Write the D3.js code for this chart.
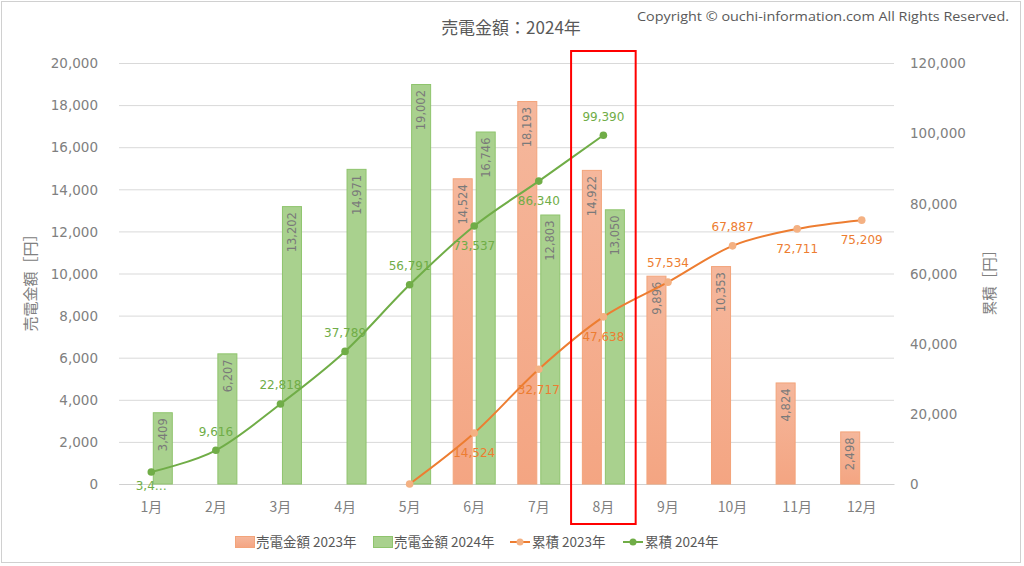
<!DOCTYPE html>
<html><head><meta charset="utf-8">
<script src="https://cdn.jsdelivr.net/npm/d3@7"></script>
<style>
html,body{margin:0;padding:0;background:#fff;}
svg{display:block;}
text{font-family:"DejaVu Sans","Noto Sans CJK JP",sans-serif;}
.jp{font-family:"Noto Sans CJK JP","DejaVu Sans",sans-serif;}
</style></head>
<body>
<svg id="chart" width="1024" height="566"></svg>
<script>
const months = ['1月','2月','3月','4月','5月','6月','7月','8月','9月','10月','11月','12月'];
const sales2023 = [null,null,null,null,null,14524,18193,14922,9896,10353,4824,2498];
const sales2024 = [3409,6207,13202,14971,19002,16746,12803,13050,null,null,null,null];
const cum2023 = [null,null,null,null,0,14524,32717,47638,57534,67887,72711,75209];
const cum2024 = [3409,9616,22818,37789,56791,73537,86340,99390,null,null,null,null];
const leftTicks = [0,2000,4000,6000,8000,10000,12000,14000,16000,18000,20000];
const rightTicks = [0,20000,40000,60000,80000,100000,120000];
const seriesNames = ['売電金額 2023年','売電金額 2024年','累積 2023年','累積 2024年'];
const highlightMonth = '8月';

// label placement (style config)
const pos2023 = [null,null,null,null,'none','below','below','below','above','above','below','below'];
const pos2024 = ['below','above','above','above','above','below','below','above'];

const svg = d3.select('#chart');
const C = {green:'#70ad47', greenFill:'#a9d18e', greenStroke:'#8fc46d', orange:'#ed7d31', orangeStroke:'#f3a47a', grid:'#d9d9d9', tick:'#808080', title:'#595959'};

const defs = svg.append('defs');
const grad = defs.append('linearGradient').attr('id','og').attr('x1',0).attr('y1',0).attr('x2',0).attr('y2',1);
grad.append('stop').attr('offset','0%').attr('stop-color','#f5b79c');
grad.append('stop').attr('offset','100%').attr('stop-color','#f4a582');

// outer border
svg.append('rect').attr('x',1.5).attr('y',1.5).attr('width',1019).attr('height',561)
  .attr('fill','none').attr('stroke','#d0d0d0').attr('stroke-width',1);

const x = d3.scaleBand().domain(months).range([119,894]).padding(0);
const bw = x.bandwidth();
const xs = d3.scaleBand().domain(['2023','2024']).range([bw*0.167, bw*0.833]).paddingInner(0.13);
const yL = d3.scaleLinear().domain([0,20000]).range([484,63]);
const yR = d3.scaleLinear().domain([0,120000]).range([484,63]);
const fmt = d3.format(',');

// grid
const gGrid = svg.append('g');
gGrid.selectAll('line').data(leftTicks).join('line')
  .attr('x1',119).attr('x2',894).attr('y1',d=>yL(d)+0.5).attr('y2',d=>yL(d)+0.5)
  .attr('stroke',C.grid).attr('stroke-width',1);

// left axis
const axL = d3.axisLeft(yL).tickValues(leftTicks).tickFormat(fmt).tickSize(0).tickPadding(0);
const gL = svg.append('g').attr('transform','translate(98,0)').call(axL);
gL.select('.domain').remove();
gL.selectAll('text').attr('fill',C.tick).attr('font-size',13.5).attr('dy','0.35em')
  .style('font-family','"DejaVu Sans",sans-serif');

// right axis
const axR = d3.axisRight(yR).tickValues(rightTicks).tickFormat(fmt).tickSize(0).tickPadding(0);
const gR = svg.append('g').attr('transform','translate(910,0)').call(axR);
gR.select('.domain').remove();
gR.selectAll('text').attr('fill',C.tick).attr('font-size',13.5).attr('dy','0.35em')
  .style('font-family','"DejaVu Sans",sans-serif');

// x axis
const axX = d3.axisBottom(x).tickSize(0).tickPadding(0);
const gX = svg.append('g').attr('transform','translate(0,484)').call(axX);
gX.select('.domain').attr('stroke','#d0d0d0');
gX.selectAll('text').attr('fill',C.tick).attr('font-size',14).attr('y',23).attr('dy','0.35em')
  .attr('class','jp');

// bars
const bars = [];
months.forEach((m,i)=>{
  if(sales2023[i]!=null) bars.push({m,key:'2023',v:sales2023[i]});
  if(sales2024[i]!=null) bars.push({m,key:'2024',v:sales2024[i]});
});
const gB = svg.append('g');
gB.selectAll('rect').data(bars).join('rect')
  .attr('x',d=>x(d.m)+xs(d.key)+0.5)
  .attr('y',d=>yL(d.v)+0.5)
  .attr('width',xs.bandwidth()-1)
  .attr('height',d=>yL(0)-yL(d.v)-0.5)
  .attr('fill',d=>d.key==='2023'?'url(#og)':C.greenFill)
  .attr('stroke',d=>d.key==='2023'?C.orangeStroke:C.greenStroke)
  .attr('stroke-width',1);
gB.selectAll('text').data(bars).join('text')
  .attr('transform',d=>`translate(${x(d.m)+xs(d.key)+xs.bandwidth()/2},${yL(d.v)+6}) rotate(-90)`)
  .attr('text-anchor','end').attr('dy','0.36em')
  .attr('font-size',11.5).attr('fill','#7a7a7a')
  .text(d=>fmt(d.v));

// lines
function drawLine(vals, color, markerFill, positions, labelFn){
  const pts = [];
  vals.forEach((v,i)=>{ if(v!=null) pts.push({m:months[i], v, i}); });
  const line = d3.line().x(d=>x(d.m)+bw/2).y(d=>yR(d.v)).curve(d3.curveCatmullRom.alpha(0));
  const g = svg.append('g');
  g.append('path').attr('d',line(pts)).attr('fill','none').attr('stroke',color).attr('stroke-width',2);
  g.selectAll('circle').data(pts).join('circle')
    .attr('cx',d=>x(d.m)+bw/2).attr('cy',d=>yR(d.v)).attr('r',3.8).attr('fill',markerFill);
  g.selectAll('text').data(pts.filter(d=>positions[d.i]!=='none')).join('text')
    .attr('x',d=>x(d.m)+bw/2)
    .attr('y',d=>Math.min(486, yR(d.v)+(positions[d.i]==='above'?-19:20)))
    .attr('dy','0.36em').attr('text-anchor','middle')
    .attr('font-size',12).attr('fill',color)
    .text(d=>labelFn(d));
}
drawLine(cum2023, C.orange, '#f4b183', pos2023, d=>fmt(d.v));
drawLine(cum2024, C.green, C.green, pos2024, d=>d.i===0 ? fmt(d.v).slice(0,3)+'…' : fmt(d.v));

// highlight box
svg.append('rect').attr('x',x(highlightMonth)).attr('y',51).attr('width',bw).attr('height',473)
  .attr('fill','none').attr('stroke','#ff0000').attr('stroke-width',2);

// titles
svg.append('text').attr('class','jp').attr('x',511).attr('y',28).attr('dy','0.35em')
  .attr('text-anchor','middle').attr('font-size',17).attr('fill',C.title).text('売電金額：2024年');
svg.append('text').attr('x',1009).attr('y',16).attr('dy','0.35em')
  .attr('text-anchor','end').attr('font-size',13).attr('fill','#595959')
  .attr('textLength',372).attr('lengthAdjust','spacingAndGlyphs')
  .style('font-family','"Open Sans",sans-serif')
  .text('Copyright © ouchi-information.com All Rights Reserved.');
svg.append('text').attr('class','jp').attr('transform','translate(31,279) rotate(-90)')
  .attr('text-anchor','middle').attr('dy','0.35em').attr('font-size',15).attr('fill',C.tick).text('売電金額［円］');
svg.append('text').attr('class','jp').attr('transform','translate(990,279) rotate(-90)')
  .attr('text-anchor','middle').attr('dy','0.35em').attr('font-size',14.5).attr('fill',C.tick).text('累積［円］');

// legend
const lg = svg.append('g').attr('transform','translate(0,542)');
const legendItems = [
  {x:235, type:'rect', fill:'url(#og)', stroke:C.orangeStroke, name:seriesNames[0]},
  {x:373, type:'rect', fill:C.greenFill, stroke:C.greenStroke, name:seriesNames[1]},
  {x:510, type:'line', color:C.orange, mfill:'#f4b183', name:seriesNames[2]},
  {x:623, type:'line', color:C.green, mfill:C.green, name:seriesNames[3]}
];
legendItems.forEach(it=>{
  if(it.type==='rect'){
    lg.append('rect').attr('x',it.x+0.5).attr('y',-5.5).attr('width',19).attr('height',11)
      .attr('fill',it.fill).attr('stroke',it.stroke);
    lg.append('text').attr('class','jp').attr('x',it.x+21).attr('dy','0.35em').attr('font-size',13.5)
      .attr('fill',C.title).text(it.name);
  } else {
    lg.append('line').attr('x1',it.x).attr('x2',it.x+20).attr('y1',0).attr('y2',0)
      .attr('stroke',it.color).attr('stroke-width',2);
    lg.append('circle').attr('cx',it.x+10).attr('cy',0).attr('r',3.5).attr('fill',it.mfill);
    lg.append('text').attr('class','jp').attr('x',it.x+22).attr('dy','0.35em').attr('font-size',13.5)
      .attr('fill',C.title).text(it.name);
  }
});
</script>
</body></html>
